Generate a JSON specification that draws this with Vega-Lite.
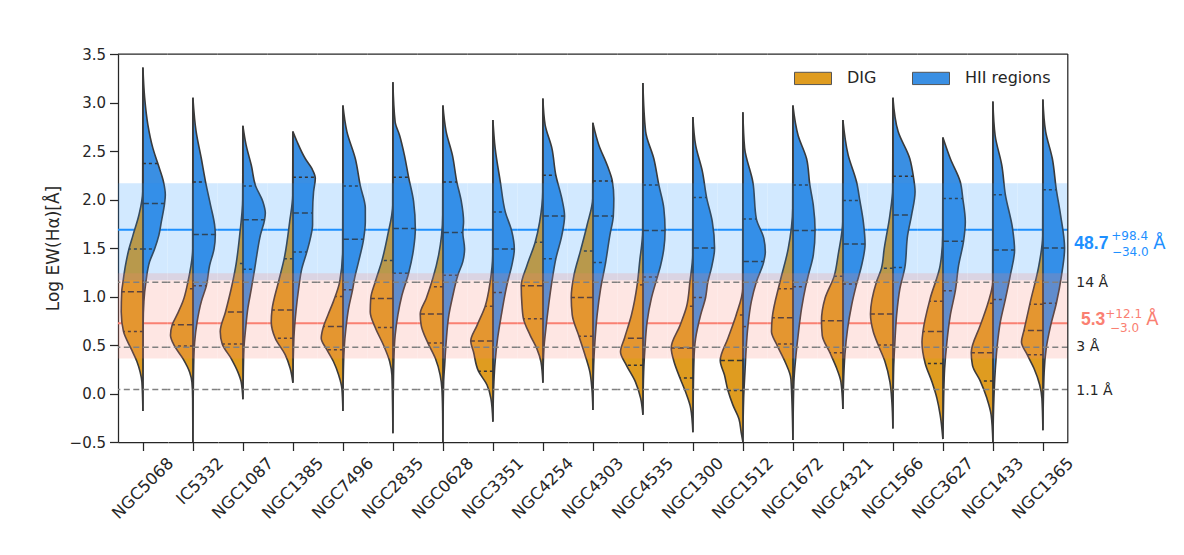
{
"$schema": "https://vega.github.io/schema/vega-lite/v6.json",
"padding": {"left": 44, "top": 47, "right": 5, "bottom": 5},
"background": "white",
"bounds": "flush",
"config": {
  "font": "DejaVu Sans",
  "view": {"stroke": null},
  "facet": {"spacing": 0},
  "axis": {"domainColor": "#262626", "tickColor": "#262626", "labelColor": "#262626", "titleColor": "#262626", "domainWidth": 1.25, "tickWidth": 1.25, "tickSize": 8.5, "grid": false, "labelFontSize": 15, "titleFontSize": 17, "titleFontWeight": "normal", "labelPadding": 4, "titlePadding": 7},
  "legend": {"symbolStrokeColor": "#555555", "symbolStrokeWidth": 1, "symbolOpacity": 1, "labelFontSize": 16, "labelOffset": 15, "columnPadding": 33, "labelColor": "#262626", "padding": 0}
},
"data": {"values": [
{"g":"NGC5068","s":"HII regions","y":3.36,"d":0},{"g":"NGC5068","s":"HII regions","y":3.05,"d":0.07},{"g":"NGC5068","s":"HII regions","y":2.77,"d":0.2},{"g":"NGC5068","s":"HII regions","y":2.53,"d":0.4},{"g":"NGC5068","s":"HII regions","y":2.37,"d":0.6},{"g":"NGC5068","s":"HII regions","y":2.18,"d":0.83},{"g":"NGC5068","s":"HII regions","y":2.05,"d":0.9},{"g":"NGC5068","s":"HII regions","y":1.96,"d":0.87},{"g":"NGC5068","s":"HII regions","y":1.77,"d":0.74},{"g":"NGC5068","s":"HII regions","y":1.63,"d":0.64},{"g":"NGC5068","s":"HII regions","y":1.49,"d":0.47},{"g":"NGC5068","s":"HII regions","y":1.36,"d":0.27},{"g":"NGC5068","s":"HII regions","y":1.15,"d":0.12},{"g":"NGC5068","s":"HII regions","y":0.95,"d":0.04},{"g":"NGC5068","s":"HII regions","y":0.7,"d":0.01},{"g":"NGC5068","s":"HII regions","y":-0.18,"d":0},
{"g":"NGC5068","s":"HII regions","q":"q3","y":2.37,"d":0.6},{"g":"NGC5068","s":"HII regions","q":"med","y":1.96,"d":0.87},{"g":"NGC5068","s":"HII regions","q":"q1","y":1.49,"d":0.47},
{"g":"NGC5068","s":"DIG","y":3.36,"d":0},{"g":"NGC5068","s":"DIG","y":2.08,"d":-0.01},{"g":"NGC5068","s":"DIG","y":1.84,"d":-0.16},{"g":"NGC5068","s":"DIG","y":1.63,"d":-0.4},{"g":"NGC5068","s":"DIG","y":1.49,"d":-0.56},{"g":"NGC5068","s":"DIG","y":1.32,"d":-0.7},{"g":"NGC5068","s":"DIG","y":1.15,"d":-0.8},{"g":"NGC5068","s":"DIG","y":1.05,"d":-0.85},{"g":"NGC5068","s":"DIG","y":0.84,"d":-0.87},{"g":"NGC5068","s":"DIG","y":0.64,"d":-0.78},{"g":"NGC5068","s":"DIG","y":0.46,"d":-0.47},{"g":"NGC5068","s":"DIG","y":0.33,"d":-0.24},{"g":"NGC5068","s":"DIG","y":0.22,"d":-0.11},{"g":"NGC5068","s":"DIG","y":0.12,"d":-0.04},{"g":"NGC5068","s":"DIG","y":-0.18,"d":0},
{"g":"NGC5068","s":"DIG","q":"q3","y":1.49,"d":-0.56},{"g":"NGC5068","s":"DIG","q":"med","y":1.05,"d":-0.85},{"g":"NGC5068","s":"DIG","q":"q1","y":0.64,"d":-0.78},
{"g":"IC5332","s":"HII regions","y":3.05,"d":0},{"g":"IC5332","s":"HII regions","y":2.7,"d":0.13},{"g":"IC5332","s":"HII regions","y":2.42,"d":0.34},{"g":"IC5332","s":"HII regions","y":2.18,"d":0.51},{"g":"IC5332","s":"HII regions","y":1.94,"d":0.71},{"g":"IC5332","s":"HII regions","y":1.74,"d":0.87},{"g":"IC5332","s":"HII regions","y":1.64,"d":0.9},{"g":"IC5332","s":"HII regions","y":1.49,"d":0.85},{"g":"IC5332","s":"HII regions","y":1.32,"d":0.67},{"g":"IC5332","s":"HII regions","y":1.11,"d":0.54},{"g":"IC5332","s":"HII regions","y":0.95,"d":0.34},{"g":"IC5332","s":"HII regions","y":0.74,"d":0.17},{"g":"IC5332","s":"HII regions","y":0.53,"d":0.07},{"g":"IC5332","s":"HII regions","y":0.29,"d":0.03},{"g":"IC5332","s":"HII regions","y":-0.5,"d":0},
{"g":"IC5332","s":"HII regions","q":"q3","y":2.18,"d":0.51},{"g":"IC5332","s":"HII regions","q":"med","y":1.64,"d":0.9},{"g":"IC5332","s":"HII regions","q":"q1","y":1.11,"d":0.54},
{"g":"IC5332","s":"DIG","y":3.05,"d":0},{"g":"IC5332","s":"DIG","y":1.49,"d":-0.01},{"g":"IC5332","s":"DIG","y":1.15,"d":-0.2},{"g":"IC5332","s":"DIG","y":0.95,"d":-0.4},{"g":"IC5332","s":"DIG","y":0.81,"d":-0.64},{"g":"IC5332","s":"DIG","y":0.71,"d":-0.83},{"g":"IC5332","s":"DIG","y":0.6,"d":-0.9},{"g":"IC5332","s":"DIG","y":0.49,"d":-0.74},{"g":"IC5332","s":"DIG","y":0.36,"d":-0.4},{"g":"IC5332","s":"DIG","y":0.22,"d":-0.13},{"g":"IC5332","s":"DIG","y":0.12,"d":-0.04},{"g":"IC5332","s":"DIG","y":-0.05,"d":-0.01},{"g":"IC5332","s":"DIG","y":-0.5,"d":0},
{"g":"IC5332","s":"DIG","q":"q3","y":1.08,"d":-0.26},{"g":"IC5332","s":"DIG","q":"med","y":0.71,"d":-0.83},{"g":"IC5332","s":"DIG","q":"q1","y":0.49,"d":-0.74},
{"g":"NGC1087","s":"HII regions","y":2.76,"d":0},{"g":"NGC1087","s":"HII regions","y":2.56,"d":0.13},{"g":"NGC1087","s":"HII regions","y":2.35,"d":0.34},{"g":"NGC1087","s":"HII regions","y":2.14,"d":0.51},{"g":"NGC1087","s":"HII regions","y":1.98,"d":0.8},{"g":"NGC1087","s":"HII regions","y":1.86,"d":0.9},{"g":"NGC1087","s":"HII regions","y":1.79,"d":0.87},{"g":"NGC1087","s":"HII regions","y":1.63,"d":0.7},{"g":"NGC1087","s":"HII regions","y":1.43,"d":0.56},{"g":"NGC1087","s":"HII regions","y":1.28,"d":0.47},{"g":"NGC1087","s":"HII regions","y":1.08,"d":0.34},{"g":"NGC1087","s":"HII regions","y":0.88,"d":0.2},{"g":"NGC1087","s":"HII regions","y":0.67,"d":0.11},{"g":"NGC1087","s":"HII regions","y":0.46,"d":0.04},{"g":"NGC1087","s":"HII regions","y":0.1,"d":0.01},{"g":"NGC1087","s":"HII regions","y":-0.06,"d":0},
{"g":"NGC1087","s":"HII regions","q":"q3","y":2.14,"d":0.51},{"g":"NGC1087","s":"HII regions","q":"med","y":1.79,"d":0.87},{"g":"NGC1087","s":"HII regions","q":"q1","y":1.28,"d":0.47},
{"g":"NGC1087","s":"DIG","y":2.76,"d":0},{"g":"NGC1087","s":"DIG","y":2.0,"d":-0.01},{"g":"NGC1087","s":"DIG","y":1.63,"d":-0.13},{"g":"NGC1087","s":"DIG","y":1.34,"d":-0.27},{"g":"NGC1087","s":"DIG","y":1.08,"d":-0.47},{"g":"NGC1087","s":"DIG","y":0.84,"d":-0.7},{"g":"NGC1087","s":"DIG","y":0.64,"d":-0.91},{"g":"NGC1087","s":"DIG","y":0.51,"d":-0.83},{"g":"NGC1087","s":"DIG","y":0.36,"d":-0.47},{"g":"NGC1087","s":"DIG","y":0.22,"d":-0.2},{"g":"NGC1087","s":"DIG","y":0.12,"d":-0.07},{"g":"NGC1087","s":"DIG","y":-0.06,"d":0},
{"g":"NGC1087","s":"DIG","q":"q3","y":1.34,"d":-0.27},{"g":"NGC1087","s":"DIG","q":"med","y":0.84,"d":-0.7},{"g":"NGC1087","s":"DIG","q":"q1","y":0.51,"d":-0.83},
{"g":"NGC1385","s":"HII regions","y":2.7,"d":0},{"g":"NGC1385","s":"HII regions","y":2.6,"d":0.16},{"g":"NGC1385","s":"HII regions","y":2.42,"d":0.5},{"g":"NGC1385","s":"HII regions","y":2.32,"d":0.76},{"g":"NGC1385","s":"HII regions","y":2.22,"d":0.9},{"g":"NGC1385","s":"HII regions","y":2.08,"d":0.83},{"g":"NGC1385","s":"HII regions","y":1.86,"d":0.79},{"g":"NGC1385","s":"HII regions","y":1.74,"d":0.79},{"g":"NGC1385","s":"HII regions","y":1.6,"d":0.7},{"g":"NGC1385","s":"HII regions","y":1.46,"d":0.56},{"g":"NGC1385","s":"HII regions","y":1.29,"d":0.36},{"g":"NGC1385","s":"HII regions","y":1.08,"d":0.23},{"g":"NGC1385","s":"HII regions","y":0.84,"d":0.12},{"g":"NGC1385","s":"HII regions","y":0.57,"d":0.04},{"g":"NGC1385","s":"HII regions","y":0.11,"d":0},
{"g":"NGC1385","s":"HII regions","q":"q3","y":2.23,"d":0.9},{"g":"NGC1385","s":"HII regions","q":"med","y":1.86,"d":0.79},{"g":"NGC1385","s":"HII regions","q":"q1","y":1.46,"d":0.56},
{"g":"NGC1385","s":"DIG","y":2.7,"d":0},{"g":"NGC1385","s":"DIG","y":2.04,"d":-0.01},{"g":"NGC1385","s":"DIG","y":1.77,"d":-0.13},{"g":"NGC1385","s":"DIG","y":1.39,"d":-0.35},{"g":"NGC1385","s":"DIG","y":1.15,"d":-0.58},{"g":"NGC1385","s":"DIG","y":0.86,"d":-0.84},{"g":"NGC1385","s":"DIG","y":0.74,"d":-0.87},{"g":"NGC1385","s":"DIG","y":0.57,"d":-0.71},{"g":"NGC1385","s":"DIG","y":0.4,"d":-0.31},{"g":"NGC1385","s":"DIG","y":0.26,"d":-0.11},{"g":"NGC1385","s":"DIG","y":0.11,"d":0},
{"g":"NGC1385","s":"DIG","q":"q3","y":1.39,"d":-0.35},{"g":"NGC1385","s":"DIG","q":"med","y":0.86,"d":-0.84},{"g":"NGC1385","s":"DIG","q":"q1","y":0.57,"d":-0.71},
{"g":"NGC7496","s":"HII regions","y":2.97,"d":0},{"g":"NGC7496","s":"HII regions","y":2.7,"d":0.16},{"g":"NGC7496","s":"HII regions","y":2.42,"d":0.5},{"g":"NGC7496","s":"HII regions","y":2.14,"d":0.7},{"g":"NGC7496","s":"HII regions","y":1.91,"d":0.9},{"g":"NGC7496","s":"HII regions","y":1.77,"d":0.9},{"g":"NGC7496","s":"HII regions","y":1.59,"d":0.83},{"g":"NGC7496","s":"HII regions","y":1.36,"d":0.63},{"g":"NGC7496","s":"HII regions","y":1.19,"d":0.47},{"g":"NGC7496","s":"HII regions","y":1.07,"d":0.39},{"g":"NGC7496","s":"HII regions","y":0.88,"d":0.23},{"g":"NGC7496","s":"HII regions","y":0.67,"d":0.12},{"g":"NGC7496","s":"HII regions","y":0.46,"d":0.05},{"g":"NGC7496","s":"HII regions","y":0.1,"d":0.01},{"g":"NGC7496","s":"HII regions","y":-0.18,"d":0},
{"g":"NGC7496","s":"HII regions","q":"q3","y":2.14,"d":0.7},{"g":"NGC7496","s":"HII regions","q":"med","y":1.59,"d":0.83},{"g":"NGC7496","s":"HII regions","q":"q1","y":1.07,"d":0.39},
{"g":"NGC7496","s":"DIG","y":2.97,"d":0},{"g":"NGC7496","s":"DIG","y":1.49,"d":-0.01},{"g":"NGC7496","s":"DIG","y":1.15,"d":-0.13},{"g":"NGC7496","s":"DIG","y":0.95,"d":-0.38},{"g":"NGC7496","s":"DIG","y":0.81,"d":-0.6},{"g":"NGC7496","s":"DIG","y":0.69,"d":-0.78},{"g":"NGC7496","s":"DIG","y":0.57,"d":-0.87},{"g":"NGC7496","s":"DIG","y":0.45,"d":-0.64},{"g":"NGC7496","s":"DIG","y":0.33,"d":-0.38},{"g":"NGC7496","s":"DIG","y":0.19,"d":-0.17},{"g":"NGC7496","s":"DIG","y":0.05,"d":-0.04},{"g":"NGC7496","s":"DIG","y":-0.18,"d":0},
{"g":"NGC7496","s":"DIG","q":"q3","y":1.0,"d":-0.3},{"g":"NGC7496","s":"DIG","q":"med","y":0.69,"d":-0.78},{"g":"NGC7496","s":"DIG","q":"q1","y":0.45,"d":-0.64},
{"g":"NGC2835","s":"HII regions","y":3.21,"d":0},{"g":"NGC2835","s":"HII regions","y":2.8,"d":0.09},{"g":"NGC2835","s":"HII regions","y":2.66,"d":0.27},{"g":"NGC2835","s":"HII regions","y":2.46,"d":0.46},{"g":"NGC2835","s":"HII regions","y":2.23,"d":0.63},{"g":"NGC2835","s":"HII regions","y":1.98,"d":0.83},{"g":"NGC2835","s":"HII regions","y":1.7,"d":0.9},{"g":"NGC2835","s":"HII regions","y":1.49,"d":0.83},{"g":"NGC2835","s":"HII regions","y":1.24,"d":0.63},{"g":"NGC2835","s":"HII regions","y":1.01,"d":0.36},{"g":"NGC2835","s":"HII regions","y":0.81,"d":0.2},{"g":"NGC2835","s":"HII regions","y":0.6,"d":0.09},{"g":"NGC2835","s":"HII regions","y":0.36,"d":0.04},{"g":"NGC2835","s":"HII regions","y":-0.41,"d":0},
{"g":"NGC2835","s":"HII regions","q":"q3","y":2.23,"d":0.63},{"g":"NGC2835","s":"HII regions","q":"med","y":1.7,"d":0.9},{"g":"NGC2835","s":"HII regions","q":"q1","y":1.24,"d":0.63},
{"g":"NGC2835","s":"DIG","y":3.21,"d":0},{"g":"NGC2835","s":"DIG","y":1.94,"d":-0.01},{"g":"NGC2835","s":"DIG","y":1.63,"d":-0.21},{"g":"NGC2835","s":"DIG","y":1.37,"d":-0.44},{"g":"NGC2835","s":"DIG","y":1.15,"d":-0.71},{"g":"NGC2835","s":"DIG","y":0.98,"d":-0.89},{"g":"NGC2835","s":"DIG","y":0.84,"d":-0.91},{"g":"NGC2835","s":"DIG","y":0.68,"d":-0.71},{"g":"NGC2835","s":"DIG","y":0.5,"d":-0.38},{"g":"NGC2835","s":"DIG","y":0.33,"d":-0.13},{"g":"NGC2835","s":"DIG","y":0.19,"d":-0.04},{"g":"NGC2835","s":"DIG","y":-0.41,"d":0},
{"g":"NGC2835","s":"DIG","q":"q3","y":1.37,"d":-0.44},{"g":"NGC2835","s":"DIG","q":"med","y":0.98,"d":-0.89},{"g":"NGC2835","s":"DIG","q":"q1","y":0.68,"d":-0.71},
{"g":"NGC0628","s":"HII regions","y":2.97,"d":0},{"g":"NGC0628","s":"HII regions","y":2.7,"d":0.13},{"g":"NGC0628","s":"HII regions","y":2.46,"d":0.38},{"g":"NGC0628","s":"HII regions","y":2.18,"d":0.56},{"g":"NGC0628","s":"HII regions","y":1.98,"d":0.74},{"g":"NGC0628","s":"HII regions","y":1.77,"d":0.83},{"g":"NGC0628","s":"HII regions","y":1.66,"d":0.8},{"g":"NGC0628","s":"HII regions","y":1.49,"d":0.87},{"g":"NGC0628","s":"HII regions","y":1.36,"d":0.8},{"g":"NGC0628","s":"HII regions","y":1.22,"d":0.6},{"g":"NGC0628","s":"HII regions","y":1.01,"d":0.4},{"g":"NGC0628","s":"HII regions","y":0.81,"d":0.24},{"g":"NGC0628","s":"HII regions","y":0.53,"d":0.13},{"g":"NGC0628","s":"HII regions","y":0.29,"d":0.07},{"g":"NGC0628","s":"HII regions","y":0.12,"d":0.03},{"g":"NGC0628","s":"HII regions","y":-0.5,"d":0},
{"g":"NGC0628","s":"HII regions","q":"q3","y":2.18,"d":0.56},{"g":"NGC0628","s":"HII regions","q":"med","y":1.66,"d":0.8},{"g":"NGC0628","s":"HII regions","q":"q1","y":1.22,"d":0.6},
{"g":"NGC0628","s":"DIG","y":2.97,"d":0},{"g":"NGC0628","s":"DIG","y":1.84,"d":-0.01},{"g":"NGC0628","s":"DIG","y":1.43,"d":-0.17},{"g":"NGC0628","s":"DIG","y":1.19,"d":-0.4},{"g":"NGC0628","s":"DIG","y":0.98,"d":-0.67},{"g":"NGC0628","s":"DIG","y":0.82,"d":-0.91},{"g":"NGC0628","s":"DIG","y":0.7,"d":-0.87},{"g":"NGC0628","s":"DIG","y":0.52,"d":-0.6},{"g":"NGC0628","s":"DIG","y":0.36,"d":-0.3},{"g":"NGC0628","s":"DIG","y":0.19,"d":-0.11},{"g":"NGC0628","s":"DIG","y":0.05,"d":-0.04},{"g":"NGC0628","s":"DIG","y":-0.2,"d":-0.01},{"g":"NGC0628","s":"DIG","y":-0.5,"d":0},
{"g":"NGC0628","s":"DIG","q":"q3","y":1.1,"d":-0.52},{"g":"NGC0628","s":"DIG","q":"med","y":0.82,"d":-0.91},{"g":"NGC0628","s":"DIG","q":"q1","y":0.52,"d":-0.6},
{"g":"NGC3351","s":"HII regions","y":2.82,"d":0},{"g":"NGC3351","s":"HII regions","y":2.53,"d":0.09},{"g":"NGC3351","s":"HII regions","y":2.18,"d":0.3},{"g":"NGC3351","s":"HII regions","y":1.87,"d":0.5},{"g":"NGC3351","s":"HII regions","y":1.67,"d":0.76},{"g":"NGC3351","s":"HII regions","y":1.49,"d":0.86},{"g":"NGC3351","s":"HII regions","y":1.32,"d":0.76},{"g":"NGC3351","s":"HII regions","y":1.15,"d":0.59},{"g":"NGC3351","s":"HII regions","y":1.04,"d":0.5},{"g":"NGC3351","s":"HII regions","y":0.81,"d":0.34},{"g":"NGC3351","s":"HII regions","y":0.57,"d":0.19},{"g":"NGC3351","s":"HII regions","y":0.33,"d":0.09},{"g":"NGC3351","s":"HII regions","y":0.12,"d":0.04},{"g":"NGC3351","s":"HII regions","y":-0.29,"d":0},
{"g":"NGC3351","s":"HII regions","q":"q3","y":1.87,"d":0.5},{"g":"NGC3351","s":"HII regions","q":"med","y":1.49,"d":0.86},{"g":"NGC3351","s":"HII regions","q":"q1","y":1.04,"d":0.5},
{"g":"NGC3351","s":"DIG","y":2.82,"d":0},{"g":"NGC3351","s":"DIG","y":1.43,"d":-0.01},{"g":"NGC3351","s":"DIG","y":1.15,"d":-0.11},{"g":"NGC3351","s":"DIG","y":0.9,"d":-0.31},{"g":"NGC3351","s":"DIG","y":0.7,"d":-0.64},{"g":"NGC3351","s":"DIG","y":0.54,"d":-0.89},{"g":"NGC3351","s":"DIG","y":0.43,"d":-0.78},{"g":"NGC3351","s":"DIG","y":0.23,"d":-0.58},{"g":"NGC3351","s":"DIG","y":0.09,"d":-0.24},{"g":"NGC3351","s":"DIG","y":-0.05,"d":-0.08},{"g":"NGC3351","s":"DIG","y":-0.29,"d":0},
{"g":"NGC3351","s":"DIG","q":"q3","y":0.9,"d":-0.31},{"g":"NGC3351","s":"DIG","q":"med","y":0.54,"d":-0.89},{"g":"NGC3351","s":"DIG","q":"q1","y":0.23,"d":-0.58},
{"g":"NGC4254","s":"HII regions","y":3.04,"d":0},{"g":"NGC4254","s":"HII regions","y":2.77,"d":0.09},{"g":"NGC4254","s":"HII regions","y":2.53,"d":0.36},{"g":"NGC4254","s":"HII regions","y":2.25,"d":0.52},{"g":"NGC4254","s":"HII regions","y":2.01,"d":0.76},{"g":"NGC4254","s":"HII regions","y":1.83,"d":0.87},{"g":"NGC4254","s":"HII regions","y":1.63,"d":0.76},{"g":"NGC4254","s":"HII regions","y":1.39,"d":0.52},{"g":"NGC4254","s":"HII regions","y":1.15,"d":0.36},{"g":"NGC4254","s":"HII regions","y":0.91,"d":0.23},{"g":"NGC4254","s":"HII regions","y":0.67,"d":0.12},{"g":"NGC4254","s":"HII regions","y":0.46,"d":0.04},{"g":"NGC4254","s":"HII regions","y":0.11,"d":0},
{"g":"NGC4254","s":"HII regions","q":"q3","y":2.25,"d":0.52},{"g":"NGC4254","s":"HII regions","q":"med","y":1.83,"d":0.87},{"g":"NGC4254","s":"HII regions","q":"q1","y":1.39,"d":0.52},
{"g":"NGC4254","s":"DIG","y":3.04,"d":0},{"g":"NGC4254","s":"DIG","y":2.08,"d":-0.01},{"g":"NGC4254","s":"DIG","y":1.77,"d":-0.13},{"g":"NGC4254","s":"DIG","y":1.56,"d":-0.31},{"g":"NGC4254","s":"DIG","y":1.32,"d":-0.64},{"g":"NGC4254","s":"DIG","y":1.11,"d":-0.87},{"g":"NGC4254","s":"DIG","y":0.91,"d":-0.84},{"g":"NGC4254","s":"DIG","y":0.77,"d":-0.78},{"g":"NGC4254","s":"DIG","y":0.6,"d":-0.51},{"g":"NGC4254","s":"DIG","y":0.46,"d":-0.24},{"g":"NGC4254","s":"DIG","y":0.33,"d":-0.08},{"g":"NGC4254","s":"DIG","y":0.11,"d":0},
{"g":"NGC4254","s":"DIG","q":"q3","y":1.56,"d":-0.31},{"g":"NGC4254","s":"DIG","q":"med","y":1.11,"d":-0.87},{"g":"NGC4254","s":"DIG","q":"q1","y":0.77,"d":-0.78},
{"g":"NGC4303","s":"HII regions","y":2.79,"d":0},{"g":"NGC4303","s":"HII regions","y":2.56,"d":0.24},{"g":"NGC4303","s":"HII regions","y":2.35,"d":0.58},{"g":"NGC4303","s":"HII regions","y":2.19,"d":0.78},{"g":"NGC4303","s":"HII regions","y":2.01,"d":0.84},{"g":"NGC4303","s":"HII regions","y":1.83,"d":0.82},{"g":"NGC4303","s":"HII regions","y":1.63,"d":0.68},{"g":"NGC4303","s":"HII regions","y":1.35,"d":0.51},{"g":"NGC4303","s":"HII regions","y":1.08,"d":0.31},{"g":"NGC4303","s":"HII regions","y":0.81,"d":0.17},{"g":"NGC4303","s":"HII regions","y":0.53,"d":0.08},{"g":"NGC4303","s":"HII regions","y":0.29,"d":0.03},{"g":"NGC4303","s":"HII regions","y":-0.17,"d":0},
{"g":"NGC4303","s":"HII regions","q":"q3","y":2.19,"d":0.78},{"g":"NGC4303","s":"HII regions","q":"med","y":1.83,"d":0.82},{"g":"NGC4303","s":"HII regions","q":"q1","y":1.35,"d":0.51},
{"g":"NGC4303","s":"DIG","y":2.79,"d":0},{"g":"NGC4303","s":"DIG","y":2.01,"d":-0.01},{"g":"NGC4303","s":"DIG","y":1.74,"d":-0.23},{"g":"NGC4303","s":"DIG","y":1.47,"d":-0.5},{"g":"NGC4303","s":"DIG","y":1.22,"d":-0.76},{"g":"NGC4303","s":"DIG","y":0.99,"d":-0.87},{"g":"NGC4303","s":"DIG","y":0.81,"d":-0.83},{"g":"NGC4303","s":"DIG","y":0.59,"d":-0.56},{"g":"NGC4303","s":"DIG","y":0.4,"d":-0.32},{"g":"NGC4303","s":"DIG","y":0.22,"d":-0.12},{"g":"NGC4303","s":"DIG","y":0.05,"d":-0.04},{"g":"NGC4303","s":"DIG","y":-0.17,"d":0},
{"g":"NGC4303","s":"DIG","q":"q3","y":1.47,"d":-0.5},{"g":"NGC4303","s":"DIG","q":"med","y":0.99,"d":-0.87},{"g":"NGC4303","s":"DIG","q":"q1","y":0.59,"d":-0.56},
{"g":"NGC4535","s":"HII regions","y":3.2,"d":0},{"g":"NGC4535","s":"HII regions","y":2.7,"d":0.11},{"g":"NGC4535","s":"HII regions","y":2.42,"d":0.44},{"g":"NGC4535","s":"HII regions","y":2.15,"d":0.64},{"g":"NGC4535","s":"HII regions","y":1.91,"d":0.84},{"g":"NGC4535","s":"HII regions","y":1.68,"d":0.89},{"g":"NGC4535","s":"HII regions","y":1.49,"d":0.84},{"g":"NGC4535","s":"HII regions","y":1.32,"d":0.71},{"g":"NGC4535","s":"HII regions","y":1.2,"d":0.58},{"g":"NGC4535","s":"HII regions","y":0.98,"d":0.34},{"g":"NGC4535","s":"HII regions","y":0.74,"d":0.17},{"g":"NGC4535","s":"HII regions","y":0.46,"d":0.08},{"g":"NGC4535","s":"HII regions","y":0.22,"d":0.03},{"g":"NGC4535","s":"HII regions","y":-0.22,"d":0},
{"g":"NGC4535","s":"HII regions","q":"q3","y":2.15,"d":0.64},{"g":"NGC4535","s":"HII regions","q":"med","y":1.68,"d":0.89},{"g":"NGC4535","s":"HII regions","q":"q1","y":1.2,"d":0.58},
{"g":"NGC4535","s":"DIG","y":3.2,"d":0},{"g":"NGC4535","s":"DIG","y":1.67,"d":-0.01},{"g":"NGC4535","s":"DIG","y":1.36,"d":-0.13},{"g":"NGC4535","s":"DIG","y":1.12,"d":-0.23},{"g":"NGC4535","s":"DIG","y":0.81,"d":-0.46},{"g":"NGC4535","s":"DIG","y":0.57,"d":-0.74},{"g":"NGC4535","s":"DIG","y":0.43,"d":-0.9},{"g":"NGC4535","s":"DIG","y":0.29,"d":-0.66},{"g":"NGC4535","s":"DIG","y":0.12,"d":-0.3},{"g":"NGC4535","s":"DIG","y":-0.05,"d":-0.09},{"g":"NGC4535","s":"DIG","y":-0.22,"d":0},
{"g":"NGC4535","s":"DIG","q":"q3","y":1.12,"d":-0.23},{"g":"NGC4535","s":"DIG","q":"med","y":0.57,"d":-0.74},{"g":"NGC4535","s":"DIG","q":"q1","y":0.29,"d":-0.66},
{"g":"NGC1300","s":"HII regions","y":2.85,"d":0},{"g":"NGC1300","s":"HII regions","y":2.56,"d":0.11},{"g":"NGC1300","s":"HII regions","y":2.29,"d":0.38},{"g":"NGC1300","s":"HII regions","y":2.02,"d":0.55},{"g":"NGC1300","s":"HII regions","y":1.77,"d":0.78},{"g":"NGC1300","s":"HII regions","y":1.5,"d":0.87},{"g":"NGC1300","s":"HII regions","y":1.29,"d":0.74},{"g":"NGC1300","s":"HII regions","y":1.15,"d":0.6},{"g":"NGC1300","s":"HII regions","y":0.99,"d":0.51},{"g":"NGC1300","s":"HII regions","y":0.81,"d":0.31},{"g":"NGC1300","s":"HII regions","y":0.57,"d":0.11},{"g":"NGC1300","s":"HII regions","y":0.33,"d":0.04},{"g":"NGC1300","s":"HII regions","y":-0.4,"d":0},
{"g":"NGC1300","s":"HII regions","q":"q3","y":2.02,"d":0.55},{"g":"NGC1300","s":"HII regions","q":"med","y":1.5,"d":0.87},{"g":"NGC1300","s":"HII regions","q":"q1","y":0.99,"d":0.51},
{"g":"NGC1300","s":"DIG","y":2.85,"d":0},{"g":"NGC1300","s":"DIG","y":1.43,"d":-0.01},{"g":"NGC1300","s":"DIG","y":1.15,"d":-0.12},{"g":"NGC1300","s":"DIG","y":0.9,"d":-0.25},{"g":"NGC1300","s":"DIG","y":0.7,"d":-0.52},{"g":"NGC1300","s":"DIG","y":0.47,"d":-0.87},{"g":"NGC1300","s":"DIG","y":0.33,"d":-0.76},{"g":"NGC1300","s":"DIG","y":0.16,"d":-0.52},{"g":"NGC1300","s":"DIG","y":0.02,"d":-0.3},{"g":"NGC1300","s":"DIG","y":-0.15,"d":-0.09},{"g":"NGC1300","s":"DIG","y":-0.4,"d":0},
{"g":"NGC1300","s":"DIG","q":"q3","y":0.9,"d":-0.25},{"g":"NGC1300","s":"DIG","q":"med","y":0.47,"d":-0.87},{"g":"NGC1300","s":"DIG","q":"q1","y":0.16,"d":-0.52},
{"g":"NGC1512","s":"HII regions","y":2.9,"d":0},{"g":"NGC1512","s":"HII regions","y":2.53,"d":0.07},{"g":"NGC1512","s":"HII regions","y":2.18,"d":0.4},{"g":"NGC1512","s":"HII regions","y":1.8,"d":0.54},{"g":"NGC1512","s":"HII regions","y":1.6,"d":0.84},{"g":"NGC1512","s":"HII regions","y":1.46,"d":0.9},{"g":"NGC1512","s":"HII regions","y":1.36,"d":0.84},{"g":"NGC1512","s":"HII regions","y":1.15,"d":0.54},{"g":"NGC1512","s":"HII regions","y":0.95,"d":0.34},{"g":"NGC1512","s":"HII regions","y":0.69,"d":0.2},{"g":"NGC1512","s":"HII regions","y":0.46,"d":0.13},{"g":"NGC1512","s":"HII regions","y":0.26,"d":0.09},{"g":"NGC1512","s":"HII regions","y":-0.05,"d":0.03},{"g":"NGC1512","s":"HII regions","y":-0.5,"d":0},
{"g":"NGC1512","s":"HII regions","q":"q3","y":1.8,"d":0.54},{"g":"NGC1512","s":"HII regions","q":"med","y":1.36,"d":0.84},{"g":"NGC1512","s":"HII regions","q":"q1","y":0.69,"d":0.2},
{"g":"NGC1512","s":"DIG","y":2.9,"d":0},{"g":"NGC1512","s":"DIG","y":1.08,"d":-0.01},{"g":"NGC1512","s":"DIG","y":0.81,"d":-0.27},{"g":"NGC1512","s":"DIG","y":0.57,"d":-0.6},{"g":"NGC1512","s":"DIG","y":0.34,"d":-0.91},{"g":"NGC1512","s":"DIG","y":0.19,"d":-0.74},{"g":"NGC1512","s":"DIG","y":0.03,"d":-0.6},{"g":"NGC1512","s":"DIG","y":-0.12,"d":-0.4},{"g":"NGC1512","s":"DIG","y":-0.26,"d":-0.16},{"g":"NGC1512","s":"DIG","y":-0.4,"d":-0.07},{"g":"NGC1512","s":"DIG","y":-0.5,"d":0},
{"g":"NGC1512","s":"DIG","q":"q3","y":0.81,"d":-0.27},{"g":"NGC1512","s":"DIG","q":"med","y":0.34,"d":-0.91},{"g":"NGC1512","s":"DIG","q":"q1","y":0.03,"d":-0.6},
{"g":"NGC1672","s":"HII regions","y":2.97,"d":0},{"g":"NGC1672","s":"HII regions","y":2.66,"d":0.21},{"g":"NGC1672","s":"HII regions","y":2.42,"d":0.55},{"g":"NGC1672","s":"HII regions","y":2.15,"d":0.68},{"g":"NGC1672","s":"HII regions","y":1.94,"d":0.82},{"g":"NGC1672","s":"HII regions","y":1.68,"d":0.89},{"g":"NGC1672","s":"HII regions","y":1.43,"d":0.82},{"g":"NGC1672","s":"HII regions","y":1.22,"d":0.62},{"g":"NGC1672","s":"HII regions","y":1.1,"d":0.51},{"g":"NGC1672","s":"HII regions","y":0.88,"d":0.35},{"g":"NGC1672","s":"HII regions","y":0.6,"d":0.21},{"g":"NGC1672","s":"HII regions","y":0.36,"d":0.11},{"g":"NGC1672","s":"HII regions","y":0.12,"d":0.04},{"g":"NGC1672","s":"HII regions","y":-0.48,"d":0},
{"g":"NGC1672","s":"HII regions","q":"q3","y":2.15,"d":0.68},{"g":"NGC1672","s":"HII regions","q":"med","y":1.68,"d":0.89},{"g":"NGC1672","s":"HII regions","q":"q1","y":1.1,"d":0.51},
{"g":"NGC1672","s":"DIG","y":2.97,"d":0},{"g":"NGC1672","s":"DIG","y":1.91,"d":-0.01},{"g":"NGC1672","s":"DIG","y":1.49,"d":-0.19},{"g":"NGC1672","s":"DIG","y":1.15,"d":-0.52},{"g":"NGC1672","s":"DIG","y":0.78,"d":-0.83},{"g":"NGC1672","s":"DIG","y":0.64,"d":-0.86},{"g":"NGC1672","s":"DIG","y":0.51,"d":-0.66},{"g":"NGC1672","s":"DIG","y":0.33,"d":-0.32},{"g":"NGC1672","s":"DIG","y":0.15,"d":-0.08},{"g":"NGC1672","s":"DIG","y":-0.48,"d":0},
{"g":"NGC1672","s":"DIG","q":"q3","y":1.08,"d":-0.58},{"g":"NGC1672","s":"DIG","q":"med","y":0.78,"d":-0.83},{"g":"NGC1672","s":"DIG","q":"q1","y":0.51,"d":-0.66},
{"g":"NGC4321","s":"HII regions","y":2.82,"d":0},{"g":"NGC4321","s":"HII regions","y":2.46,"d":0.21},{"g":"NGC4321","s":"HII regions","y":2.18,"d":0.55},{"g":"NGC4321","s":"HII regions","y":1.99,"d":0.68},{"g":"NGC4321","s":"HII regions","y":1.77,"d":0.82},{"g":"NGC4321","s":"HII regions","y":1.54,"d":0.89},{"g":"NGC4321","s":"HII regions","y":1.32,"d":0.75},{"g":"NGC4321","s":"HII regions","y":1.13,"d":0.55},{"g":"NGC4321","s":"HII regions","y":0.91,"d":0.35},{"g":"NGC4321","s":"HII regions","y":0.67,"d":0.19},{"g":"NGC4321","s":"HII regions","y":0.4,"d":0.08},{"g":"NGC4321","s":"HII regions","y":-0.16,"d":0},
{"g":"NGC4321","s":"HII regions","q":"q3","y":1.99,"d":0.68},{"g":"NGC4321","s":"HII regions","q":"med","y":1.54,"d":0.89},{"g":"NGC4321","s":"HII regions","q":"q1","y":1.13,"d":0.55},
{"g":"NGC4321","s":"DIG","y":2.82,"d":0},{"g":"NGC4321","s":"DIG","y":1.77,"d":-0.01},{"g":"NGC4321","s":"DIG","y":1.43,"d":-0.19},{"g":"NGC4321","s":"DIG","y":1.21,"d":-0.35},{"g":"NGC4321","s":"DIG","y":0.98,"d":-0.72},{"g":"NGC4321","s":"DIG","y":0.75,"d":-0.86},{"g":"NGC4321","s":"DIG","y":0.6,"d":-0.83},{"g":"NGC4321","s":"DIG","y":0.42,"d":-0.52},{"g":"NGC4321","s":"DIG","y":0.26,"d":-0.25},{"g":"NGC4321","s":"DIG","y":0.12,"d":-0.08},{"g":"NGC4321","s":"DIG","y":-0.16,"d":0},
{"g":"NGC4321","s":"DIG","q":"q3","y":1.21,"d":-0.35},{"g":"NGC4321","s":"DIG","q":"med","y":0.75,"d":-0.86},{"g":"NGC4321","s":"DIG","q":"q1","y":0.42,"d":-0.52},
{"g":"NGC1566","s":"HII regions","y":3.05,"d":0},{"g":"NGC1566","s":"HII regions","y":2.7,"d":0.21},{"g":"NGC1566","s":"HII regions","y":2.42,"d":0.68},{"g":"NGC1566","s":"HII regions","y":2.24,"d":0.82},{"g":"NGC1566","s":"HII regions","y":2.08,"d":0.89},{"g":"NGC1566","s":"HII regions","y":1.84,"d":0.75},{"g":"NGC1566","s":"HII regions","y":1.63,"d":0.59},{"g":"NGC1566","s":"HII regions","y":1.3,"d":0.48},{"g":"NGC1566","s":"HII regions","y":1.08,"d":0.28},{"g":"NGC1566","s":"HII regions","y":0.81,"d":0.15},{"g":"NGC1566","s":"HII regions","y":0.53,"d":0.08},{"g":"NGC1566","s":"HII regions","y":0.26,"d":0.03},{"g":"NGC1566","s":"HII regions","y":-0.36,"d":0},
{"g":"NGC1566","s":"HII regions","q":"q3","y":2.24,"d":0.82},{"g":"NGC1566","s":"HII regions","q":"med","y":1.84,"d":0.75},{"g":"NGC1566","s":"HII regions","q":"q1","y":1.3,"d":0.48},
{"g":"NGC1566","s":"DIG","y":3.05,"d":0},{"g":"NGC1566","s":"DIG","y":2.11,"d":-0.01},{"g":"NGC1566","s":"DIG","y":1.84,"d":-0.12},{"g":"NGC1566","s":"DIG","y":1.49,"d":-0.35},{"g":"NGC1566","s":"DIG","y":1.29,"d":-0.46},{"g":"NGC1566","s":"DIG","y":1.15,"d":-0.66},{"g":"NGC1566","s":"DIG","y":0.82,"d":-0.9},{"g":"NGC1566","s":"DIG","y":0.64,"d":-0.79},{"g":"NGC1566","s":"DIG","y":0.5,"d":-0.59},{"g":"NGC1566","s":"DIG","y":0.33,"d":-0.32},{"g":"NGC1566","s":"DIG","y":0.12,"d":-0.12},{"g":"NGC1566","s":"DIG","y":-0.09,"d":-0.04},{"g":"NGC1566","s":"DIG","y":-0.36,"d":0},
{"g":"NGC1566","s":"DIG","q":"q3","y":1.29,"d":-0.46},{"g":"NGC1566","s":"DIG","q":"med","y":0.82,"d":-0.9},{"g":"NGC1566","s":"DIG","q":"q1","y":0.5,"d":-0.59},
{"g":"NGC3627","s":"HII regions","y":2.64,"d":0},{"g":"NGC3627","s":"HII regions","y":2.42,"d":0.3},{"g":"NGC3627","s":"HII regions","y":2.18,"d":0.7},{"g":"NGC3627","s":"HII regions","y":2.01,"d":0.8},{"g":"NGC3627","s":"HII regions","y":1.77,"d":0.9},{"g":"NGC3627","s":"HII regions","y":1.57,"d":0.83},{"g":"NGC3627","s":"HII regions","y":1.32,"d":0.63},{"g":"NGC3627","s":"HII regions","y":1.06,"d":0.5},{"g":"NGC3627","s":"HII regions","y":0.81,"d":0.3},{"g":"NGC3627","s":"HII regions","y":0.53,"d":0.16},{"g":"NGC3627","s":"HII regions","y":0.26,"d":0.07},{"g":"NGC3627","s":"HII regions","y":-0.05,"d":0.03},{"g":"NGC3627","s":"HII regions","y":-0.47,"d":0},
{"g":"NGC3627","s":"HII regions","q":"q3","y":2.01,"d":0.8},{"g":"NGC3627","s":"HII regions","q":"med","y":1.57,"d":0.83},{"g":"NGC3627","s":"HII regions","q":"q1","y":1.06,"d":0.5},
{"g":"NGC3627","s":"DIG","y":2.64,"d":0},{"g":"NGC3627","s":"DIG","y":1.63,"d":-0.01},{"g":"NGC3627","s":"DIG","y":1.32,"d":-0.11},{"g":"NGC3627","s":"DIG","y":0.98,"d":-0.51},{"g":"NGC3627","s":"DIG","y":0.64,"d":-0.8},{"g":"NGC3627","s":"DIG","y":0.53,"d":-0.84},{"g":"NGC3627","s":"DIG","y":0.31,"d":-0.71},{"g":"NGC3627","s":"DIG","y":0.12,"d":-0.44},{"g":"NGC3627","s":"DIG","y":-0.05,"d":-0.24},{"g":"NGC3627","s":"DIG","y":-0.22,"d":-0.11},{"g":"NGC3627","s":"DIG","y":-0.47,"d":0},
{"g":"NGC3627","s":"DIG","q":"q3","y":0.95,"d":-0.53},{"g":"NGC3627","s":"DIG","q":"med","y":0.64,"d":-0.8},{"g":"NGC3627","s":"DIG","q":"q1","y":0.31,"d":-0.71},
{"g":"NGC1433","s":"HII regions","y":3.01,"d":0},{"g":"NGC1433","s":"HII regions","y":2.66,"d":0.09},{"g":"NGC1433","s":"HII regions","y":2.35,"d":0.36},{"g":"NGC1433","s":"HII regions","y":2.05,"d":0.5},{"g":"NGC1433","s":"HII regions","y":1.7,"d":0.79},{"g":"NGC1433","s":"HII regions","y":1.48,"d":0.87},{"g":"NGC1433","s":"HII regions","y":1.22,"d":0.7},{"g":"NGC1433","s":"HII regions","y":0.97,"d":0.5},{"g":"NGC1433","s":"HII regions","y":0.74,"d":0.3},{"g":"NGC1433","s":"HII regions","y":0.46,"d":0.16},{"g":"NGC1433","s":"HII regions","y":0.22,"d":0.09},{"g":"NGC1433","s":"HII regions","y":-0.05,"d":0.04},{"g":"NGC1433","s":"HII regions","y":-0.5,"d":0},
{"g":"NGC1433","s":"HII regions","q":"q3","y":2.05,"d":0.5},{"g":"NGC1433","s":"HII regions","q":"med","y":1.48,"d":0.87},{"g":"NGC1433","s":"HII regions","q":"q1","y":0.97,"d":0.5},
{"g":"NGC1433","s":"DIG","y":3.01,"d":0},{"g":"NGC1433","s":"DIG","y":1.15,"d":-0.01},{"g":"NGC1433","s":"DIG","y":0.93,"d":-0.2},{"g":"NGC1433","s":"DIG","y":0.7,"d":-0.51},{"g":"NGC1433","s":"DIG","y":0.42,"d":-0.87},{"g":"NGC1433","s":"DIG","y":0.29,"d":-0.82},{"g":"NGC1433","s":"DIG","y":0.13,"d":-0.51},{"g":"NGC1433","s":"DIG","y":-0.05,"d":-0.24},{"g":"NGC1433","s":"DIG","y":-0.22,"d":-0.07},{"g":"NGC1433","s":"DIG","y":-0.5,"d":0},
{"g":"NGC1433","s":"DIG","q":"q3","y":0.93,"d":-0.2},{"g":"NGC1433","s":"DIG","q":"med","y":0.42,"d":-0.87},{"g":"NGC1433","s":"DIG","q":"q1","y":0.13,"d":-0.51},
{"g":"NGC1365","s":"HII regions","y":3.03,"d":0},{"g":"NGC1365","s":"HII regions","y":2.7,"d":0.11},{"g":"NGC1365","s":"HII regions","y":2.42,"d":0.38},{"g":"NGC1365","s":"HII regions","y":2.1,"d":0.54},{"g":"NGC1365","s":"HII regions","y":1.84,"d":0.71},{"g":"NGC1365","s":"HII regions","y":1.5,"d":0.87},{"g":"NGC1365","s":"HII regions","y":1.22,"d":0.75},{"g":"NGC1365","s":"HII regions","y":0.93,"d":0.54},{"g":"NGC1365","s":"HII regions","y":0.7,"d":0.31},{"g":"NGC1365","s":"HII regions","y":0.46,"d":0.13},{"g":"NGC1365","s":"HII regions","y":0.22,"d":0.05},{"g":"NGC1365","s":"HII regions","y":-0.38,"d":0},
{"g":"NGC1365","s":"HII regions","q":"q3","y":2.1,"d":0.54},{"g":"NGC1365","s":"HII regions","q":"med","y":1.5,"d":0.87},{"g":"NGC1365","s":"HII regions","q":"q1","y":0.93,"d":0.54},
{"g":"NGC1365","s":"DIG","y":3.03,"d":0},{"g":"NGC1365","s":"DIG","y":1.63,"d":-0.01},{"g":"NGC1365","s":"DIG","y":1.32,"d":-0.16},{"g":"NGC1365","s":"DIG","y":0.95,"d":-0.5},{"g":"NGC1365","s":"DIG","y":0.65,"d":-0.76},{"g":"NGC1365","s":"DIG","y":0.53,"d":-0.86},{"g":"NGC1365","s":"DIG","y":0.4,"d":-0.63},{"g":"NGC1365","s":"DIG","y":0.26,"d":-0.36},{"g":"NGC1365","s":"DIG","y":0.09,"d":-0.13},{"g":"NGC1365","s":"DIG","y":-0.05,"d":-0.04},{"g":"NGC1365","s":"DIG","y":-0.38,"d":0},
{"g":"NGC1365","s":"DIG","q":"q3","y":0.92,"d":-0.52},{"g":"NGC1365","s":"DIG","q":"med","y":0.65,"d":-0.76},{"g":"NGC1365","s":"DIG","q":"q1","y":0.4,"d":-0.63}
]},
"spacing": 0,
"facet": {"column": {"field": "g", "type": "nominal", "sort": ["NGC5068","IC5332","NGC1087","NGC1385","NGC7496","NGC2835","NGC0628","NGC3351","NGC4254","NGC4303","NGC4535","NGC1300","NGC1512","NGC1672","NGC4321","NGC1566","NGC3627","NGC1433","NGC1365"], "header": {"labels": false, "title": null}}},
"spec": {
  "width": 49.8,
  "height": 388,
  "layer": [
    {"transform": [{"filter": "datum.s=='DIG' && datum.q=='med'"}], "mark": {"type": "rule", "color": "#1E90FF", "strokeWidth": 2}, "encoding": {"y": {"datum": 1.6875, "type": "quantitative"}}},
    {"transform": [{"filter": "datum.s=='DIG' && datum.q=='med'"}], "mark": {"type": "rule", "color": "#FA8072", "strokeWidth": 2}, "encoding": {"y": {"datum": 0.724, "type": "quantitative"}}},
    {"transform": [{"filter": "!datum.q"}],
     "mark": {"type": "area", "orient": "horizontal", "interpolate": "monotone", "stroke": "#3a3a3a", "strokeWidth": 1.6, "fillOpacity": 1},
     "encoding": {
       "y": {"field": "y", "type": "quantitative", "scale": {"domain": [-0.5, 3.5], "nice": false, "zero": false}, "axis": {"values": [-0.5, 0, 0.5, 1, 1.5, 2, 2.5, 3, 3.5], "format": ".1f", "title": "Log EW(Hα)[Å]"}},
       "x": {"field": "d", "type": "quantitative", "stack": null, "scale": {"domain": [-1, 1], "nice": false, "zero": false}, "axis": {"values": [0], "labels": false, "title": null}},
       "color": {"field": "s", "type": "nominal", "scale": {"domain": ["DIG", "HII regions"], "range": ["#DF9C20", "#3A8FE3"]}, "legend": {"orient": "none", "legendX": 676, "legendY": 5, "direction": "horizontal", "title": null, "symbolType": "M-1,-0.332H1V0.332H-1Z", "symbolSize": 1369}}
     }},
    {"transform": [{"filter": "datum.q=='med'"}, {"stack": "d", "groupby": ["g", "s", "q"], "as": ["d0", "d1"]}], "mark": {"type": "rule", "color": "#333333", "strokeWidth": 1.5, "strokeDash": [6, 3]},
     "encoding": {"y": {"field": "y", "type": "quantitative"}, "x": {"field": "d0", "type": "quantitative"}, "x2": {"field": "d1"}}},
    {"transform": [{"filter": "datum.q=='q1' || datum.q=='q3'"}, {"stack": "d", "groupby": ["g", "s", "q"], "as": ["d0", "d1"]}], "mark": {"type": "rule", "color": "#333333", "strokeWidth": 1.5, "strokeDash": [3, 3]},
     "encoding": {"y": {"field": "y", "type": "quantitative"}, "x": {"field": "d0", "type": "quantitative"}, "x2": {"field": "d1"}}},
    {"transform": [{"filter": "datum.s=='DIG' && datum.q=='med'"}], "mark": {"type": "rect", "color": "#1E90FF", "opacity": 0.2}, "encoding": {"y": {"datum": 1.167, "type": "quantitative"}, "y2": {"datum": 2.168}}},
    {"transform": [{"filter": "datum.s=='DIG' && datum.q=='med'"}], "mark": {"type": "rect", "color": "#FA8072", "opacity": 0.2}, "encoding": {"y": {"datum": 0.362, "type": "quantitative"}, "y2": {"datum": 1.2405}}},
    {"transform": [{"filter": "datum.s=='DIG' && datum.q=='med'"}], "mark": {"type": "rule", "color": "#808080", "strokeWidth": 1.5, "strokeDash": [6, 3.5]}, "encoding": {"y": {"datum": 1.146, "type": "quantitative"}}},
    {"transform": [{"filter": "datum.s=='DIG' && datum.q=='med'"}], "mark": {"type": "rule", "color": "#808080", "strokeWidth": 1.5, "strokeDash": [6, 3.5]}, "encoding": {"y": {"datum": 0.477, "type": "quantitative"}}},
    {"transform": [{"filter": "datum.s=='DIG' && datum.q=='med'"}], "mark": {"type": "rule", "color": "#808080", "strokeWidth": 1.5, "strokeDash": [6, 3.5]}, "encoding": {"y": {"datum": 0.041, "type": "quantitative"}}},
    {"transform": [{"filter": "datum.s=='DIG' && datum.q=='med'"}], "mark": {"type": "rule", "color": "#262626", "strokeWidth": 1.25}, "encoding": {"y": {"datum": 3.5, "type": "quantitative"}}},
    {"transform": [{"filter": "datum.g=='NGC1365' && datum.s=='DIG' && datum.q=='med'"}], "mark": {"type": "rule", "color": "#262626", "strokeWidth": 1.25}, "encoding": {"x": {"value": "width"}}},
    {"transform": [{"filter": "datum.s=='DIG' && datum.q=='med'"}], "mark": {"type": "text", "angle": 315, "align": "right", "baseline": "middle", "dx": 6.5, "dy": 33, "fontSize": 16.5, "color": "#262626"},
     "encoding": {"y": {"datum": -0.5, "type": "quantitative"}, "text": {"field": "g", "type": "nominal"}}},
    {"transform": [{"filter": "datum.g=='NGC1365' && datum.s=='DIG' && datum.q=='med'"}], "mark": {"type": "text", "text": "48.7", "align": "left", "baseline": "alphabetic", "dx": 31.4, "font": "Liberation Sans", "fontSize": 17.5, "fontWeight": "bold", "color": "#1E90FF"},
     "encoding": {"y": {"datum": 1.485, "type": "quantitative"}}},
    {"transform": [{"filter": "datum.g=='NGC1365' && datum.s=='DIG' && datum.q=='med'"}], "mark": {"type": "text", "text": "+98.4", "align": "left", "baseline": "alphabetic", "dx": 68.4, "fontSize": 12, "color": "#1E90FF"},
     "encoding": {"y": {"datum": 1.58, "type": "quantitative"}}},
    {"transform": [{"filter": "datum.g=='NGC1365' && datum.s=='DIG' && datum.q=='med'"}], "mark": {"type": "text", "text": "−34.0", "align": "left", "baseline": "alphabetic", "dx": 69, "fontSize": 12, "color": "#1E90FF"},
     "encoding": {"y": {"datum": 1.415, "type": "quantitative"}}},
    {"transform": [{"filter": "datum.g=='NGC1365' && datum.s=='DIG' && datum.q=='med'"}], "mark": {"type": "text", "text": "Å", "align": "left", "baseline": "alphabetic", "dx": 110.4, "fontSize": 18, "color": "#1E90FF"},
     "encoding": {"y": {"datum": 1.485, "type": "quantitative"}}},
    {"transform": [{"filter": "datum.g=='NGC1365' && datum.s=='DIG' && datum.q=='med'"}], "mark": {"type": "text", "text": "5.3", "align": "left", "baseline": "alphabetic", "dx": 38, "font": "Liberation Sans", "fontSize": 17.5, "fontWeight": "bold", "color": "#FA8072"},
     "encoding": {"y": {"datum": 0.704, "type": "quantitative"}}},
    {"transform": [{"filter": "datum.g=='NGC1365' && datum.s=='DIG' && datum.q=='med'"}], "mark": {"type": "text", "text": "+12.1", "align": "left", "baseline": "alphabetic", "dx": 62.4, "fontSize": 12, "color": "#FA8072"},
     "encoding": {"y": {"datum": 0.78, "type": "quantitative"}}},
    {"transform": [{"filter": "datum.g=='NGC1365' && datum.s=='DIG' && datum.q=='med'"}], "mark": {"type": "text", "text": "−3.0", "align": "left", "baseline": "alphabetic", "dx": 67, "fontSize": 12, "color": "#FA8072"},
     "encoding": {"y": {"datum": 0.636, "type": "quantitative"}}},
    {"transform": [{"filter": "datum.g=='NGC1365' && datum.s=='DIG' && datum.q=='med'"}], "mark": {"type": "text", "text": "Å", "align": "left", "baseline": "alphabetic", "dx": 103.4, "fontSize": 18, "color": "#FA8072"},
     "encoding": {"y": {"datum": 0.704, "type": "quantitative"}}},
    {"transform": [{"filter": "datum.g=='NGC1365' && datum.s=='DIG' && datum.q=='med'"}], "mark": {"type": "text", "text": "14 Å", "align": "left", "baseline": "alphabetic", "dx": 33.4, "fontSize": 14, "color": "#262626"},
     "encoding": {"y": {"datum": 1.1, "type": "quantitative"}}},
    {"transform": [{"filter": "datum.g=='NGC1365' && datum.s=='DIG' && datum.q=='med'"}], "mark": {"type": "text", "text": "3 Å", "align": "left", "baseline": "alphabetic", "dx": 33.4, "fontSize": 14, "color": "#262626"},
     "encoding": {"y": {"datum": 0.433, "type": "quantitative"}}},
    {"transform": [{"filter": "datum.g=='NGC1365' && datum.s=='DIG' && datum.q=='med'"}], "mark": {"type": "text", "text": "1.1 Å", "align": "left", "baseline": "alphabetic", "dx": 33.4, "fontSize": 14, "color": "#262626"},
     "encoding": {"y": {"datum": -0.018, "type": "quantitative"}}}
  ]
}
}
